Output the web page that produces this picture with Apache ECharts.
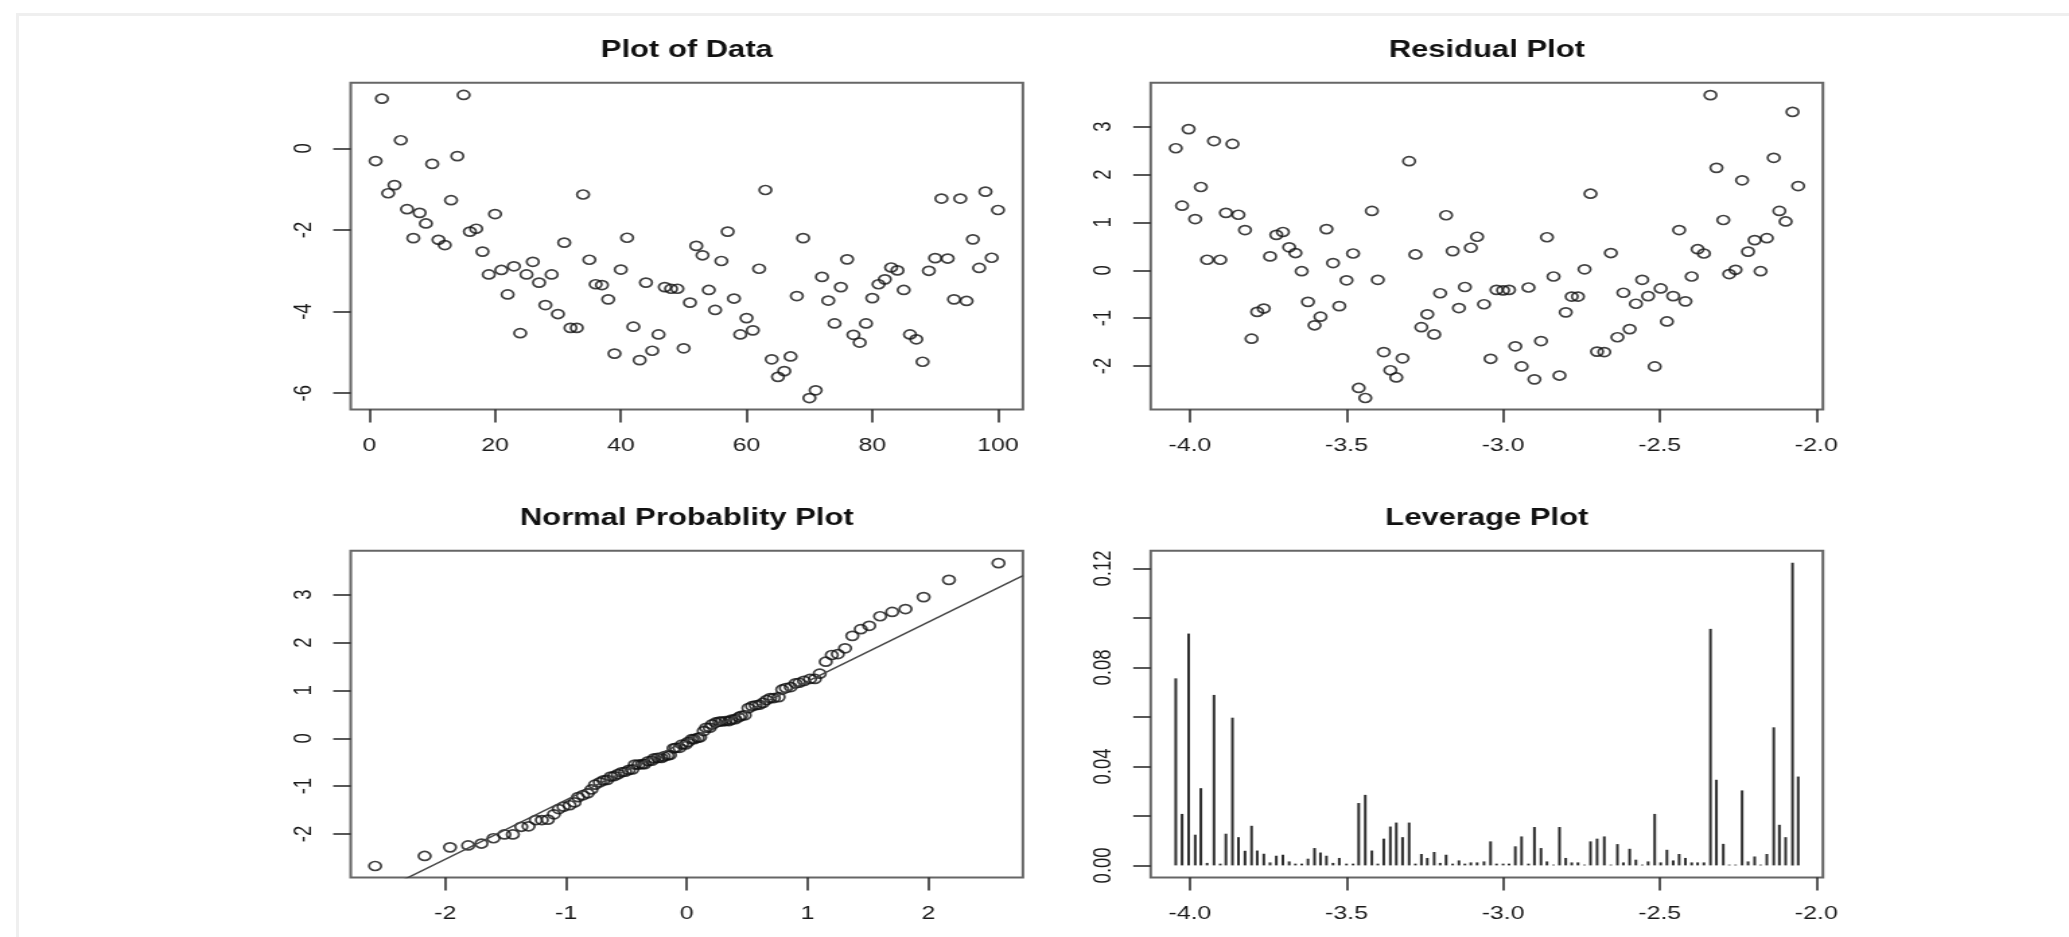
<!DOCTYPE html>
<html>
<head>
<meta charset="utf-8">
<title>Regression diagnostics</title>
<script src="https://cdn.jsdelivr.net/npm/echarts@6.0.0/dist/echarts.min.js"></script>
<style>
  html, body { margin: 0; padding: 0; background: #fff; overflow: hidden; }
  #frame { position: absolute; left: 16px; top: 13px; right: 0; bottom: 0;
           border-left: 3px solid #efefef; border-top: 3px solid #efefef; }
  /* the original picture is stretched sideways, so the chart is drawn narrow and scaled */
  #chart { position: absolute; left: 0; top: 0; width: 1537px; height: 937px;
           transform: scaleX(1.34613); transform-origin: 0 0; }
</style>
</head>
<body>
<div id="frame"></div>
<div id="chart"></div>
<script>
// observation number and observed value (Plot of Data)
var obsIndex = [1, 2, 3, 4, 5, 6, 7, 8, 9, 10, 11, 12, 13, 14, 15, 16, 17, 18, 19, 20,
    21, 22, 23, 24, 25, 26, 27, 28, 29, 30, 31, 32, 33, 34, 35, 36, 37, 38, 39, 40,
    41, 42, 43, 44, 45, 46, 47, 48, 49, 50, 51, 52, 53, 54, 55, 56, 57, 58, 59, 60,
    61, 62, 63, 64, 65, 66, 67, 68, 69, 70, 71, 72, 73, 74, 75, 76, 77, 78, 79, 80,
    81, 82, 83, 84, 85, 86, 87, 88, 89, 90, 91, 92, 93, 94, 95, 96, 97, 98, 99, 100];
var obsValue = [-0.31, 1.22, -1.10, -0.90, 0.20, -1.49, -2.20, -1.58, -1.84, -0.38,
    -2.24, -2.37, -1.27, -0.19, 1.31, -2.04, -1.97, -2.53, -3.09, -1.61,
    -2.98, -3.58, -2.89, -4.53, -3.09, -2.78, -3.29, -3.84, -3.09, -4.06,
    -2.31, -4.40, -4.40, -1.13, -2.73, -3.33, -3.35, -3.70, -5.03, -2.97,
    -2.19, -4.37, -5.19, -3.29, -4.96, -4.56, -3.40, -3.44, -3.44, -4.90,
    -3.78, -2.39, -2.62, -3.47, -3.96, -2.76, -2.04, -3.68, -4.56, -4.16,
    -4.46, -2.95, -1.02, -5.17, -5.60, -5.46, -5.10, -3.62, -2.20, -6.12,
    -5.93, -3.15, -3.73, -4.29, -3.40, -2.72, -4.57, -4.76, -4.29, -3.67,
    -3.33, -3.21, -2.92, -2.99, -3.47, -4.56, -4.68, -5.23, -3.00, -2.69,
    -1.23, -2.70, -3.70, -1.23, -3.74, -2.23, -2.93, -1.06, -2.68, -1.51];

// fitted values (x of Residual Plot and Leverage Plot)
var fitted = [-4.045, -4.025, -4.004, -3.983, -3.965, -3.945, -3.923, -3.903, -3.885, -3.864,
    -3.845, -3.824, -3.803, -3.785, -3.764, -3.744, -3.724, -3.703, -3.683, -3.663,
    -3.643, -3.623, -3.602, -3.583, -3.564, -3.543, -3.523, -3.500, -3.479, -3.461,
    -3.440, -3.419, -3.400, -3.381, -3.360, -3.341, -3.321, -3.300, -3.280, -3.261,
    -3.242, -3.220, -3.201, -3.182, -3.161, -3.141, -3.122, -3.103, -3.083, -3.061,
    -3.040, -3.021, -3.000, -2.981, -2.961, -2.941, -2.919, -2.900, -2.879, -2.860,
    -2.839, -2.820, -2.800, -2.781, -2.761, -2.740, -2.721, -2.700, -2.677, -2.656,
    -2.635, -2.616, -2.596, -2.576, -2.556, -2.537, -2.516, -2.497, -2.477, -2.457,
    -2.438, -2.418, -2.398, -2.379, -2.359, -2.338, -2.319, -2.297, -2.278, -2.258,
    -2.237, -2.218, -2.197, -2.178, -2.158, -2.136, -2.118, -2.098, -2.076, -2.058];

var residual = [2.55, 1.35, 2.95, 1.07, 1.74, 0.22, 2.70, 0.22, 1.20, 2.64,
    1.16, 0.84, -1.43, -0.87, -0.80, 0.29, 0.74, 0.80, 0.48, 0.36,
    -0.02, -0.66, -1.15, -0.97, 0.86, 0.15, -0.75, -0.21, 0.35, -2.46,
    -2.67, 1.24, -0.20, -1.71, -2.09, -2.24, -1.84, 2.28, 0.33, -1.19,
    -0.92, -1.34, -0.48, 1.15, 0.40, -0.79, -0.35, 0.47, 0.70, -0.71,
    -1.85, -0.41, -0.42, -0.41, -1.59, -2.01, -0.36, -2.28, -1.48, 0.69,
    -0.13, -2.20, -0.88, -0.55, -0.55, 0.02, 1.60, -1.70, -1.71, 0.36,
    -1.40, -0.47, -1.23, -0.70, -0.20, -0.54, -2.01, -0.38, -1.07, -0.54,
    0.84, -0.65, -0.13, 0.44, 0.35, 3.66, 2.14, 1.05, -0.08, 0.01,
    1.88, 0.39, 0.63, -0.02, 0.67, 2.35, 1.24, 1.02, 3.31, 1.76];

var leverage = [0.0756, 0.0208, 0.0937, 0.0124, 0.0312, 0.0010, 0.0689, 0.0007, 0.0128, 0.0597,
    0.0114, 0.0059, 0.0160, 0.0060, 0.0047, 0.0012, 0.0039, 0.0043, 0.0016, 0.0007,
    0.0007, 0.0027, 0.0070, 0.0052, 0.0039, 0.0010, 0.0030, 0.0007, 0.0007, 0.0252,
    0.0285, 0.0060, 0.0007, 0.0108, 0.0157, 0.0173, 0.0114, 0.0173, 0.0007, 0.0046,
    0.0030, 0.0054, 0.0010, 0.0043, 0.0007, 0.0020, 0.0007, 0.0012, 0.0012, 0.0016,
    0.0097, 0.0007, 0.0007, 0.0007, 0.0077, 0.0117, 0.0007, 0.0155, 0.0070, 0.0016,
    0.0003, 0.0155, 0.0030, 0.0012, 0.0012, 0.0003, 0.0097, 0.0108, 0.0117, 0.0003,
    0.0086, 0.0012, 0.0067, 0.0023, 0.0003, 0.0016, 0.0208, 0.0012, 0.0063, 0.0020,
    0.0046, 0.0030, 0.0012, 0.0012, 0.0012, 0.0956, 0.0346, 0.0087, 0.0003, 0.0003,
    0.0303, 0.0016, 0.0036, 0.0003, 0.0046, 0.0558, 0.0164, 0.0114, 0.1223, 0.0359];

// theoretical normal quantiles shown on the Normal Probablity Plot
var normQuantile = [-2.58, -2.17, -1.96, -1.81, -1.70, -1.60, -1.51, -1.44, -1.37, -1.31,
    -1.25, -1.20, -1.15, -1.10, -1.06, -1.02, -0.97, -0.93, -0.90, -0.86,
    -0.82, -0.79, -0.76, -0.72, -0.69, -0.66, -0.63, -0.60, -0.57, -0.54,
    -0.51, -0.48, -0.45, -0.43, -0.40, -0.37, -0.35, -0.32, -0.29, -0.27,
    -0.24, -0.21, -0.19, -0.16, -0.14, -0.11, -0.09, -0.06, -0.04, -0.01,
    0.01, 0.04, 0.06, 0.09, 0.11, 0.14, 0.16, 0.19, 0.21, 0.24,
    0.27, 0.29, 0.32, 0.35, 0.37, 0.40, 0.43, 0.45, 0.48, 0.51,
    0.54, 0.57, 0.60, 0.63, 0.66, 0.69, 0.72, 0.76, 0.79, 0.82,
    0.86, 0.90, 0.93, 0.97, 1.02, 1.06, 1.10, 1.15, 1.20, 1.25,
    1.31, 1.37, 1.44, 1.51, 1.60, 1.70, 1.81, 1.96, 2.17, 2.58];
// reference line
var qqIntercept = -0.05;
var qqSlope = 1.24;

// tick values
var obsTicksX = [0, 20, 40, 60, 80, 100];
var obsTicksY = [-6, -4, -2, 0];
var fitTicks = [-4, -3.5, -3, -2.5, -2];
var residTicks = [-2, -1, 0, 1, 2, 3];
var qqTicksX = [-2, -1, 0, 1, 2];
var levTicks = [0, 0.02, 0.04, 0.06, 0.08, 0.1, 0.12];
var levLabels = [0, 0.04, 0.08, 0.12];

var titles = ['Plot of Data', 'Residual Plot', 'Normal Probablity Plot', 'Leverage Plot'];

// ---- layout (page pixels, converted to the narrow chart space) ----
var SX = 2069 / 1537;
function cx(v) { return v / SX; }
var boxLeft = [350.7, 1150.7, 350.7, 1150.7];
var boxTop = [82.7, 82.7, 550.7, 550.7];
var boxW = 672.2, boxH = 326.8;
var FONT = '"Liberation Sans", Arial, Helvetica, sans-serif';

function pairs(xs, ys) {
    var out = [];
    for (var i = 0; i < xs.length; i++) out.push([xs[i], ys[i]]);
    return out;
}

function makeAxis(idx, min, max, ticks, labels, fmt, isY) {
    return {
        type: 'value',
        gridIndex: idx,
        position: isY ? 'left' : 'bottom',
        min: min,
        max: max,
        splitLine: { show: false },
        axisLine: { show: false, onZero: false },
        axisTick: {
            show: true,
            length: 13,
            customValues: ticks,
            lineStyle: { color: '#222', width: 1.5 }
        },
        axisLabel: {
            customValues: labels,
            formatter: fmt,
            fontFamily: FONT,
            fontSize: 18.5,
            color: '#1a1a1a',
            rotate: isY ? 90 : 0,
            margin: isY ? 25 : 27
        }
    };
}

var intFmt = function (v) { return String(Math.round(v)); };
var oneFmt = function (v) { return v.toFixed(1); };
var twoFmt = function (v) { return v.toFixed(2); };

var grids = [], titleList = [];
for (var g = 0; g < 4; g++) {
    grids.push({
        left: cx(boxLeft[g]),
        top: boxTop[g],
        width: cx(boxW),
        height: boxH,
        show: true,
        borderColor: '#666',
        borderWidth: 2,
        backgroundColor: 'transparent'
    });
    titleList.push({
        text: titles[g],
        left: cx(boxLeft[g] + boxW / 2),
        top: boxTop[g] - 44,
        textAlign: 'center',
        padding: 0,
        textStyle: { fontFamily: FONT, fontSize: 23, fontWeight: 'bold', color: '#111' }
    });
}

var fitMin = -4.125, fitMax = -1.979;
var resMin = -2.91, resMax = 3.92;
var qqMin = -2.782, qqMax = 2.782;

var qqSorted = residual.slice().sort(function (a, b) { return a - b; });
var qqLine = [[qqMin, qqIntercept + qqSlope * qqMin], [qqMax, qqIntercept + qqSlope * qqMax]];

var ringStyle = { color: 'rgba(0,0,0,0)', borderColor: '#111', borderWidth: 1.7 };

var option = {
    animation: false,
    backgroundColor: 'transparent',
    title: titleList,
    grid: grids,
    xAxis: [
        makeAxis(0, -2.96, 103.96, obsTicksX, obsTicksX, intFmt, false),
        makeAxis(1, fitMin, fitMax, fitTicks, fitTicks, oneFmt, false),
        makeAxis(2, qqMin, qqMax, qqTicksX, qqTicksX, intFmt, false),
        makeAxis(3, fitMin, fitMax, fitTicks, fitTicks, oneFmt, false)
    ],
    yAxis: [
        makeAxis(0, -6.40, 1.61, obsTicksY, obsTicksY, intFmt, true),
        makeAxis(1, resMin, resMax, residTicks, residTicks, intFmt, true),
        makeAxis(2, resMin, resMax, residTicks, residTicks, intFmt, true),
        makeAxis(3, -0.0049, 0.1272, levTicks, levLabels, twoFmt, true)
    ],
    series: [
        {
            name: 'data',
            type: 'scatter',
            xAxisIndex: 0, yAxisIndex: 0,
            symbol: 'circle', symbolSize: 9,
            itemStyle: ringStyle,
            data: pairs(obsIndex, obsValue)
        },
        {
            name: 'residuals',
            type: 'scatter',
            xAxisIndex: 1, yAxisIndex: 1,
            symbol: 'circle', symbolSize: 9,
            itemStyle: ringStyle,
            data: pairs(fitted, residual)
        },
        {
            name: 'qq points',
            type: 'scatter',
            xAxisIndex: 2, yAxisIndex: 2,
            symbol: 'circle', symbolSize: 9,
            itemStyle: ringStyle,
            data: pairs(normQuantile, qqSorted)
        },
        {
            name: 'qq line',
            type: 'line',
            xAxisIndex: 2, yAxisIndex: 2,
            showSymbol: false,
            clip: true,
            lineStyle: { color: '#444', width: 1.4 },
            data: qqLine
        },
        {
            name: 'leverage',
            type: 'bar',
            xAxisIndex: 3, yAxisIndex: 3,
            barWidth: 2,
            itemStyle: { color: '#2e2e2e' },
            data: pairs(fitted, leverage)
        }
    ]
};

var chart = echarts.init(document.getElementById('chart'));
chart.setOption(option);
</script>
</body>
</html>
